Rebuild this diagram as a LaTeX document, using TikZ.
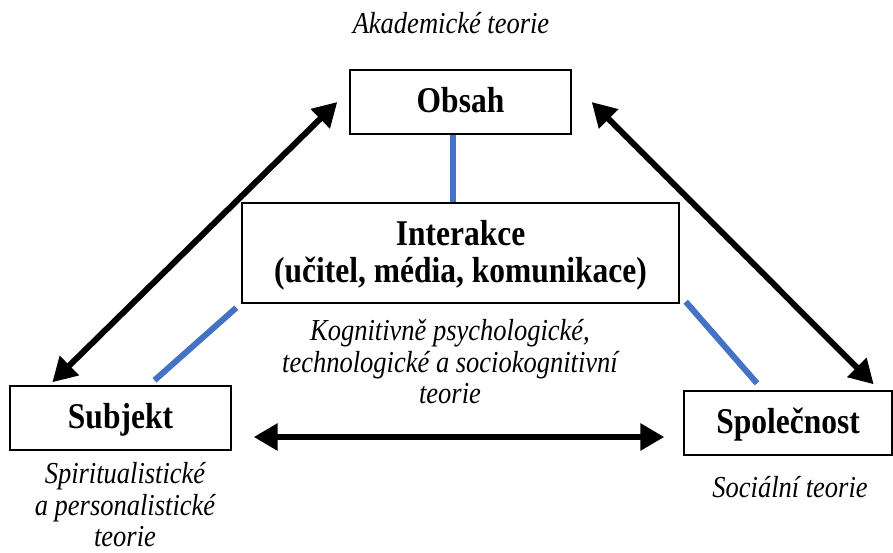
\documentclass[tikz,border=0pt]{standalone}
\usepackage{fontspec}
\usepackage{graphicx}
\setmainfont{Liberation Serif}
\usetikzlibrary{arrows.meta, calc}
\definecolor{MyBlue}{HTML}{4472C4}
\newcommand{\tallText}[2][0pt]{\raisebox{#1}[\height][\depth]{\scalebox{1}[1.15]{\begin{tabular}{@{}c@{}}#2\end{tabular}}}}
\tikzset{
	box/.style={draw, line width=1.4pt, fill=white, inner sep=0pt,
		font=\bfseries\fontsize{31.5}{32}\selectfont},
	theory/.style={inner sep=0pt, font=\itshape\fontsize{26.5}{27.5}\selectfont},
	rel/.style={line width=6pt, {Triangle[length=24pt,width=26pt]}-{Triangle[length=24pt,width=26pt]}},
	link/.style={line width=6pt, MyBlue}
}

\begin{document}
\begin{tikzpicture}[x=1pt, y=-1pt]
	\useasboundingbox (0,0) rectangle (893,552);
	
	\node[box, minimum width=221pt, minimum height=64pt] (obsah) at (460.5,102) {\tallText[-3pt]{Obsah}};
	\node[box, minimum width=437pt, minimum height=100pt] (interakce) at (460.5,253) {\tallText[-4pt]{Interakce\\(učitel, média, komunikace)}};
	\node[box, minimum width=221pt, minimum height=64pt] (subjekt) at (120.5,418) {\tallText[-3pt]{Subjekt}};
	\node[box, minimum width=208pt, minimum height=64pt] (spolecnost) at (788,423) {\tallText[-3pt]{Společnost}};
	
	\node[theory] (akademicke) at (451,27) {\tallText{Akademické teorie}};
	\node[theory] (kognitivni) at (450,366) {\tallText{Kognitivně psychologické,\\technologické a sociokognitivní\\teorie}};
	\node[theory] (spiritualisticke) at (125,509) {\tallText{Spiritualistické\\a personalistické\\teorie}};
	\node[theory] (socialni) at (790,491) {\tallText{Sociální teorie}};
	
	\coordinate (obsahL) at ([shift={(-12,0)}]obsah.west);
	\coordinate (obsahR) at ([shift={(20,0)}]obsah.east);
	\coordinate (subjektT) at ([shift={(43,-3)}]subjekt.north west);
	\coordinate (spolecnostT) at ([shift={(-19,-6)}]spolecnost.north east);
	\coordinate (subjektR) at ([shift={(22,19)}]subjekt.east);
	\coordinate (spolecnostL) at ([shift={(-19,14)}]spolecnost.west);
	
	\draw[rel] (subjektT) -- (obsahL);
	\draw[rel] (obsahR) -- (spolecnostT);
	\draw[rel] (subjektR) -- (spolecnostL);
	
	\draw[link] ([xshift=-8pt]obsah.south) -- ([xshift=-8pt]obsah.south |- interakce.north);
	\draw[link] ([shift={(-5,4)}]interakce.south west) -- ([shift={(34,-5)}]subjekt.north);
	\draw[link] ([shift={(6,-2)}]interakce.south east) -- ([shift={(-31,-7)}]spolecnost.north);
\end{tikzpicture}
\end{document}
